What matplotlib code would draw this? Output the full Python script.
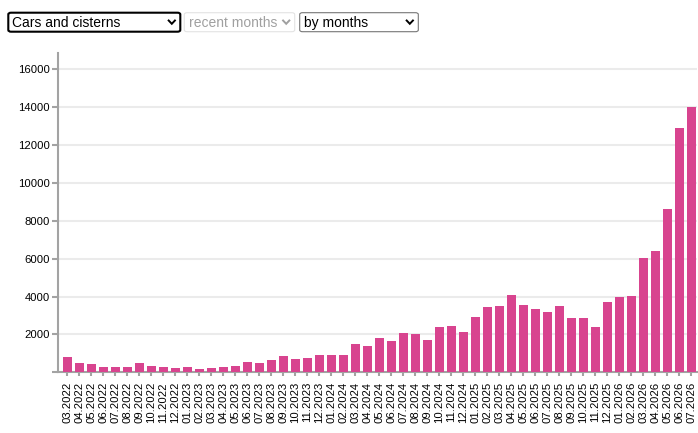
import matplotlib
matplotlib.use("Agg")
import matplotlib.pyplot as plt
from matplotlib.patches import FancyBboxPatch
from matplotlib.lines import Line2D

plt.rcParams['font.family'] = ['Liberation Sans', 'DejaVu Sans']

months = ["03.2022", "04.2022", "05.2022", "06.2022", "07.2022", "08.2022", "09.2022",
          "10.2022", "11.2022", "12.2022", "01.2023", "02.2023", "03.2023", "04.2023",
          "05.2023", "06.2023", "07.2023", "08.2023", "09.2023", "10.2023", "11.2023",
          "12.2023", "01.2024", "02.2024", "03.2024", "04.2024", "05.2024", "06.2024",
          "07.2024", "08.2024", "09.2024", "10.2024", "11.2024", "12.2024", "01.2025",
          "02.2025", "03.2025", "04.2025", "05.2025", "06.2025", "07.2025", "08.2025",
          "09.2025", "10.2025", "11.2025", "12.2025", "01.2026", "02.2026", "03.2026",
          "04.2026", "05.2026", "06.2026", "07.2026"]
values = [814, 513, 460, 283, 283, 283, 513, 336, 283, 230, 283, 177, 230, 283,
          336, 549, 513, 655, 867, 708, 761, 920, 920, 915, 1495, 1390, 1807, 1649,
          2070, 2018, 1702, 2386, 2439, 2123, 2912, 3439, 3491, 4070, 3544, 3333,
          3175, 3491, 2865, 2865, 2404, 3719, 3982, 4035, 6035, 6404, 8614, 12877, 13982]
yticks = [0, 2000, 4000, 6000, 8000, 10000, 12000, 14000, 16000]
dropdowns = ["Cars and cisterns", "recent months", "by months"]

W, H = 698, 433
fig = plt.figure(figsize=(W / 100, H / 100), dpi=100)

def fx(px):
    return px / W

def fy(py):
    return 1 - py / H

ax_left, ax_right, ax_top, ax_bottom = 58, 697, 53, 372.3
ax = fig.add_axes([fx(ax_left), fy(ax_bottom), fx(ax_right) - fx(ax_left), fy(ax_top) - fy(ax_bottom)])

grey = '#a3a3a3'
x = list(range(len(months)))
ax.bar(x, values, width=0.75, color='#d8448f', zorder=3)
ax.set_xlim(-0.79, 52.46)
ax.set_ylim(0, 16850)

ax.set_yticks(yticks)
ax.set_yticklabels([''] + [str(v) for v in yticks[1:]])
ax.set_xticks(x)
ax.set_xticklabels(months, rotation=90, va='top', ha='center')

for v in yticks[1:]:
    ax.axhline(v, color='#ebebeb', lw=1.5, zorder=1)

for s in ['top', 'right']:
    ax.spines[s].set_visible(False)
for s in ['left', 'bottom']:
    ax.spines[s].set_color(grey)
    ax.spines[s].set_linewidth(1.5)

ax.tick_params(axis='y', length=4, width=1.5, color=grey, pad=1.8, labelsize=8.1, labelcolor='#000000')
ax.tick_params(axis='x', length=3, width=1.5, color=grey, pad=4, labelsize=8.1, labelcolor='#000000')

# dropdown controls
boxes = [
    (8.3, 180.3, 'black', 1.5, '#000000', 12.5),
    (184.3, 294.7, '#e3e3e3', 0.8, '#a0a0a0', 189.0),
    (299.7, 418.3, '#767676', 0.8, '#000000', 304.0),
]
y0, y1 = 12.7, 31.7
for (xa, xb, ec, lw, tc, tx), label in zip(boxes, dropdowns):
    p = FancyBboxPatch((fx(xa), fy(y1)), fx(xb) - fx(xa), fy(y0) - fy(y1),
                       boxstyle="round,pad=0,rounding_size=0.004",
                       transform=fig.transFigure, facecolor='white', edgecolor=ec, lw=lw)
    fig.patches.append(p)
    fig.text(fx(tx), fy((y0 + y1) / 2 + 0.5), label, fontsize=10, color=tc,
             ha='left', va='center')
    cx = xb - 8.5
    chev_c = '#000000' if tc == '#000000' else '#a0a0a0'
    fig.lines.append(Line2D([fx(cx - 3.8), fx(cx), fx(cx + 3.8)],
                            [fy(19.8), fy(23.8), fy(19.8)],
                            transform=fig.transFigure, color=chev_c, lw=1.4,
                            solid_capstyle='butt', solid_joinstyle='miter'))

fig.savefig('out.png', dpi=100)
